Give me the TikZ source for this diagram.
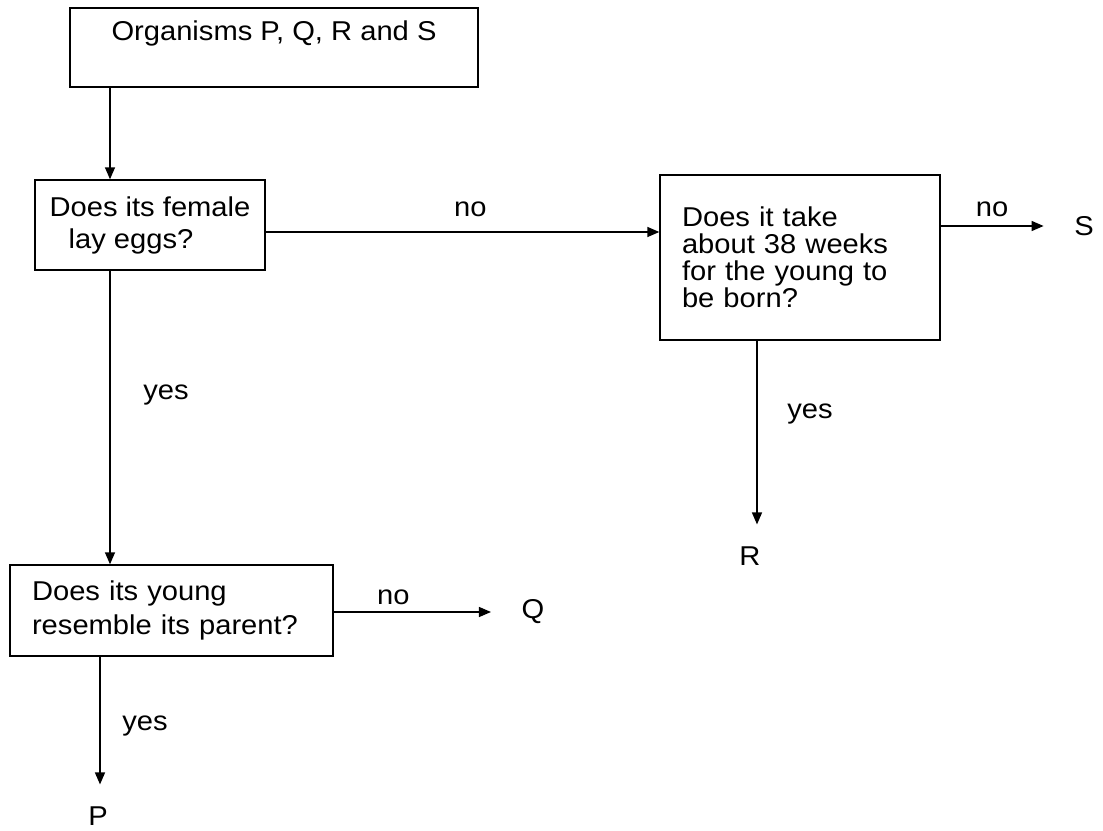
\documentclass[tikz,border=0pt]{standalone}
\usepackage{fontspec}
\setmainfont{Liberation Sans}[FakeStretch=1.07]
\usepackage{tikz}
\usetikzlibrary{arrows.meta}

\begin{document}
\begin{tikzpicture}[x=0.02cm, y=-0.02cm, line width=0.8pt,
    >={Triangle[length=0.24cm, width=0.2cm]},
    font=\fontsize{15.5}{19}\selectfont,
    ask/.style={draw, align=left, inner ysep=0pt},
    leaf/.style={inner xsep=0.6cm, inner ysep=0.43cm}]
  \useasboundingbox (0,0) rectangle (1103,831);

  \node[draw, minimum width=8.16cm, inner sep=0pt, text height=0.66cm, text depth=0.92cm] (org) at (274,47.5) {Organisms P, Q, R and S};
  \node[ask, minimum width=4.6cm, minimum height=1.8cm, font=\fontsize{15.5}{18.2}\selectfont] (eggs) at (150,225) {Does its female\\\hspace*{0.38cm}lay eggs?};
  \node[ask, text width=4.72cm, inner xsep=0.44cm, minimum height=3.3cm, font=\fontsize{15.5}{15.3}\selectfont] (weeks) at (800,257.5) {Does it take\\about 38 weeks\\for the young to\\be born?};
  \node[ask, text width=5.58cm, inner xsep=0.44cm, minimum height=1.82cm, font=\fontsize{15.5}{19.4}\selectfont] (young) at (171.5,610.5) {Does its young\\resemble its parent?};

  \node[leaf] (S) at (1084,226) {S};
  \node[leaf] (R) at (750,556) {R};
  \node[leaf] (Q) at (533,612) {Q};
  \node[leaf] (P) at (98,816) {P};

  \draw[->] (110,0 |- org.south) -- (110,0 |- eggs.north);
  \draw[->] (eggs.east |- 0,232) -- (weeks.west |- 0,232) node[pos=0.52, yshift=0.46cm] {no};
  \draw[->] (weeks.east |- S) -- (S.west) node[midway, yshift=0.34cm] {no};
  \draw[->] (757,0 |- weeks.south) -- (757,0 |- R.north) node[pos=0.4, xshift=1.06cm] {yes};
  \draw[->] (110,0 |- eggs.south) -- (110,0 |- young.north) node[pos=0.425, xshift=1.12cm] {yes};
  \draw[->] (young.east |- Q) -- (Q.west) node[pos=0.38, yshift=0.3cm] {no};
  \draw[->] (100,0 |- young.south) -- (100,0 |- P.north) node[pos=0.54, xshift=0.9cm] {yes};
\end{tikzpicture}
\end{document}
